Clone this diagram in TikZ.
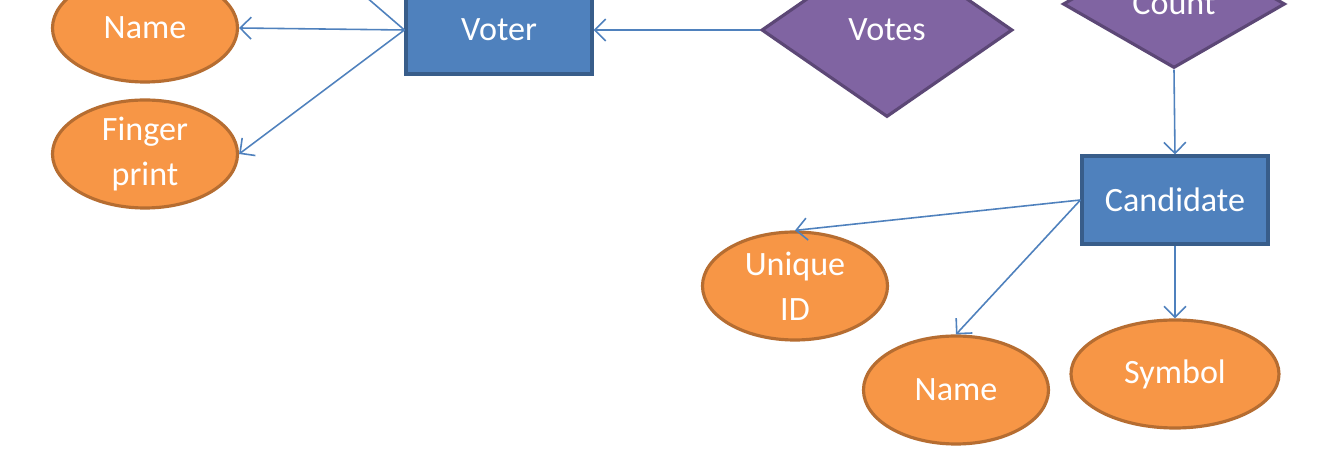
\documentclass[tikz,border=0pt]{standalone}
\usepackage{fontspec}
\setmainfont{Carlito}
\usepackage{tikz}
\usepackage{xcolor}
\usetikzlibrary{arrows.meta,shapes.geometric}

\definecolor{attrfill}{HTML}{F79646}
\definecolor{attrline}{HTML}{B66D31}
\definecolor{entfill}{HTML}{4F81BD}
\definecolor{entline}{HTML}{385D8A}
\definecolor{relfill}{HTML}{8064A2}
\definecolor{relline}{HTML}{5C4776}
\definecolor{linkcol}{HTML}{4F81BD}

\begin{document}
\begin{tikzpicture}[
  >={Straight Barb[length=1.1mm,width=2.2mm]},
  every node/.style={font=\fontsize{9.7}{12.8}\selectfont, text=white},
  attr/.style={ellipse, draw=attrline, line width=0.9pt, fill=attrfill, minimum width=#1, minimum height=1.08cm, inner sep=0pt, align=center},
  attr/.default=1.85cm,
  ent/.style={rectangle, draw=entline, line width=0.9pt, fill=entfill, minimum width=1.86cm, minimum height=0.88cm, inner sep=0pt},
  rel/.style={diamond, draw=relline, line width=0.9pt, fill=relfill, minimum width=#1, inner sep=0pt},
  link/.style={->, draw=linkcol, line width=0.45pt}
]
\useasboundingbox (0,0) rectangle (13.18,-4.74);
\clip (0,0) rectangle (13.18,-4.74);
\fill[white] (0,0) rectangle (13.18,-4.74);

% entities
\node[ent] (voter)     at (4.99,-0.30) {Voter};
\node[ent] (candidate) at (11.75,-2.00) {Candidate};

% relationships
\node[rel=2.51cm, minimum height=1.74cm] (votes) at (8.87,-0.30) {Votes};
\node[rel=2.22cm, minimum height=1.28cm] (count) at (11.74,-0.04) {Count};

% attributes
\node[attr] (vname)  at (1.45,-0.28) {Name};
\node[attr] (finger) at (1.45,-1.54) {Finger\\print};
\node[attr] (uid)    at (7.95,-2.86) {Unique\\ID};
\node[attr] (cname)  at (9.56,-3.90) {Name};
\node[attr=2.08cm] (symbol) at (11.75,-3.74) {Symbol};

\coordinate (offtop) at (3.00,0.60);

% connectors
\draw[link] (voter.west) -- (vname.east);
\draw[link] (voter.west) -- (finger.east);
\draw[draw=linkcol, line width=0.45pt] (voter.west) -- (offtop);
\draw[link] (votes.west) -- (voter.east);
\draw[link] (count.south) -- (candidate.north);
\draw[link] (candidate.west) -- (uid.north);
\draw[link] (candidate.west) -- (cname.north);
\draw[link] (candidate.south) -- (symbol.north);
\end{tikzpicture}
\end{document}
